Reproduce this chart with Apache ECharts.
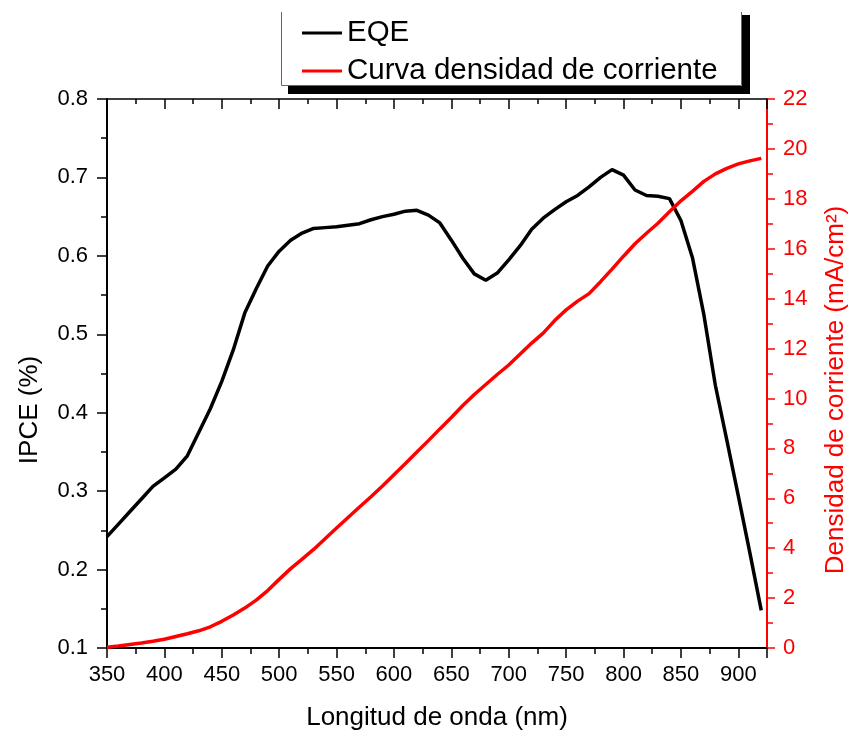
<!DOCTYPE html>
<html>
<head>
<meta charset="utf-8">
<script src="https://cdn.jsdelivr.net/npm/echarts@6/dist/echarts.min.js"></script>
<style>
  html, body { margin: 0; padding: 0; background: #fff; }
  #chart { width: 851px; height: 734px; }
</style>
</head>
<body>
<div id="chart"></div>
<script>
// longitudes de onda (nm)
const wavelength = [350, 360, 370, 380, 390, 400, 410, 420, 430, 440, 450, 460, 470, 480, 490,
  500, 510, 520, 530, 540, 550, 560, 570, 580, 590, 600, 610, 620, 630, 640, 650, 660, 670, 680,
  690, 700, 710, 720, 730, 740, 750, 760, 770, 780, 790, 800, 810, 820, 830, 840, 850, 860, 870,
  880, 890, 900, 910, 920];

// IPCE
const eqe = [0.242, 0.258, 0.274, 0.290, 0.306, 0.317, 0.328, 0.345, 0.375, 0.405, 0.440, 0.480,
  0.527, 0.558, 0.587, 0.606, 0.620, 0.629, 0.635, 0.636, 0.637, 0.639, 0.641, 0.646, 0.650, 0.653,
  0.657, 0.658, 0.652, 0.642, 0.620, 0.597, 0.577, 0.569, 0.578, 0.595, 0.613, 0.634, 0.648, 0.659,
  0.669, 0.677, 0.688, 0.700, 0.710, 0.703, 0.684, 0.677, 0.676, 0.673, 0.645, 0.598, 0.525, 0.435,
  0.365, 0.294, 0.222, 0.148];

// densidad de corriente (mA/cm2)
const current = [0.03, 0.08, 0.14, 0.20, 0.27, 0.35, 0.46, 0.57, 0.69, 0.85, 1.07, 1.32, 1.60, 1.92,
  2.30, 2.75, 3.18, 3.56, 3.95, 4.38, 4.81, 5.23, 5.65, 6.06, 6.49, 6.94, 7.39, 7.85, 8.31, 8.78,
  9.24, 9.72, 10.16, 10.56, 10.96, 11.34, 11.78, 12.22, 12.62, 13.12, 13.55, 13.90, 14.20, 14.68,
  15.18, 15.70, 16.20, 16.62, 17.02, 17.48, 17.92, 18.30, 18.70, 19.00, 19.22, 19.40, 19.52, 19.62];

const xRange = [350, 925];
const ipceRange = [0.1, 0.8];
const jRange = [0, 22];

const font = 'Liberation Sans, Arial, sans-serif';
const red = '#ff0000';

const chart = echarts.init(document.getElementById('chart'));

const baseX = {
  type: 'value', min: xRange[0], max: xRange[1], interval: 50,
  splitLine: { show: false }
};

chart.setOption({
  animation: false,
  backgroundColor: '#fff',
  grid: { left: 107, right: 84, top: 99, bottom: 86, outerBoundsMode: 'none' },
  legend: {
    orient: 'vertical', left: 302, top: 18, padding: 0, itemGap: 8,
    itemWidth: 40, itemHeight: 3, z: 10,
    textStyle: { fontFamily: font, fontSize: 29.5, color: '#000', lineHeight: 30 },
    data: [
      { name: 'EQE', icon: 'rect' },
      { name: 'Curva densidad de corriente', icon: 'rect' }
    ]
  },
  graphic: [
    // caja de la leyenda con sombra
    {
      type: 'rect', z: 1,
      shape: { x: 288, y: 15, width: 462, height: 79 },
      style: { fill: '#000' }
    },
    {
      type: 'rect', z: 2,
      shape: { x: 281, y: 0, width: 461, height: 86 },
      style: { fill: '#fff' }
    },
    {
      type: 'polyline', z: 3,
      shape: { points: [[281.5, 12], [281.5, 85.5], [741.5, 85.5], [741.5, 12]] },
      style: { stroke: '#666', lineWidth: 1, fill: null }
    },
    {
      type: 'text', x: 437, y: 718, z: 5,
      style: { text: 'Longitud de onda (nm)', font: '26px ' + font, fill: '#000',
               textAlign: 'center', textVerticalAlign: 'middle' }
    },
    {
      type: 'text', x: 30, y: 410, rotation: Math.PI / 2, z: 5,
      style: { text: 'IPCE (%)', font: '26px ' + font, fill: '#000',
               textAlign: 'center', textVerticalAlign: 'middle' }
    },
    {
      type: 'text', x: 836, y: 390, rotation: Math.PI / 2, z: 5,
      style: { text: 'Densidad de corriente (mA/cm²)', font: '26px ' + font, fill: red,
               textAlign: 'center', textVerticalAlign: 'middle' }
    }
  ],
  xAxis: [
    Object.assign({}, baseX, {
      position: 'bottom',
      axisLine: { lineStyle: { color: '#000', width: 2 } },
      axisTick: { length: 10, lineStyle: { color: '#000', width: 1.5 } },
      minorTick: { show: true, splitNumber: 2, length: 6, lineStyle: { color: '#000', width: 1.5 } },
      minorSplitLine: { show: false },
      axisLabel: { fontFamily: font, fontSize: 22, color: '#000', margin: 16, showMaxLabel: false }
    }),
    Object.assign({}, baseX, {
      position: 'top',
      axisLine: { lineStyle: { color: '#000', width: 1.5 } },
      axisTick: { inside: true, length: 10, lineStyle: { color: '#000', width: 1.5 } },
      minorTick: { show: true, splitNumber: 2, length: 5, lineStyle: { color: '#000', width: 1.5 } },
      axisLabel: { show: false }
    })
  ],
  yAxis: [
    {
      type: 'value', position: 'left', min: ipceRange[0], max: ipceRange[1], interval: 0.1,
      splitLine: { show: false },
      axisLine: { show: true, lineStyle: { color: '#000', width: 2 } },
      axisTick: { show: true, length: 10, lineStyle: { color: '#000', width: 1.5 } },
      minorTick: { show: true, splitNumber: 2, length: 6, lineStyle: { color: '#000', width: 1.5 } },
      axisLabel: { fontFamily: font, fontSize: 22, color: '#000', margin: 19,
                   formatter: v => v.toFixed(1) }
    },
    {
      type: 'value', position: 'right', min: jRange[0], max: jRange[1], interval: 2,
      splitLine: { show: false },
      axisLine: { show: true, lineStyle: { color: red, width: 2 } },
      axisTick: { show: true, length: 8, lineStyle: { color: red, width: 1.5 } },
      minorTick: { show: true, splitNumber: 2, length: 6, lineStyle: { color: red, width: 1.5 } },
      axisLabel: { fontFamily: font, fontSize: 22, color: red, margin: 16 }
    }
  ],
  series: [
    {
      name: 'EQE', type: 'line', xAxisIndex: 0, yAxisIndex: 0,
      symbol: 'none', color: '#000',
      lineStyle: { color: '#000', width: 3.5 },
      data: wavelength.map((w, i) => [w, eqe[i]])
    },
    {
      name: 'Curva densidad de corriente', type: 'line', xAxisIndex: 0, yAxisIndex: 1,
      symbol: 'none', color: red,
      lineStyle: { color: red, width: 3.5 },
      data: wavelength.map((w, i) => [w, current[i]])
    }
  ]
});
</script>
</body>
</html>
